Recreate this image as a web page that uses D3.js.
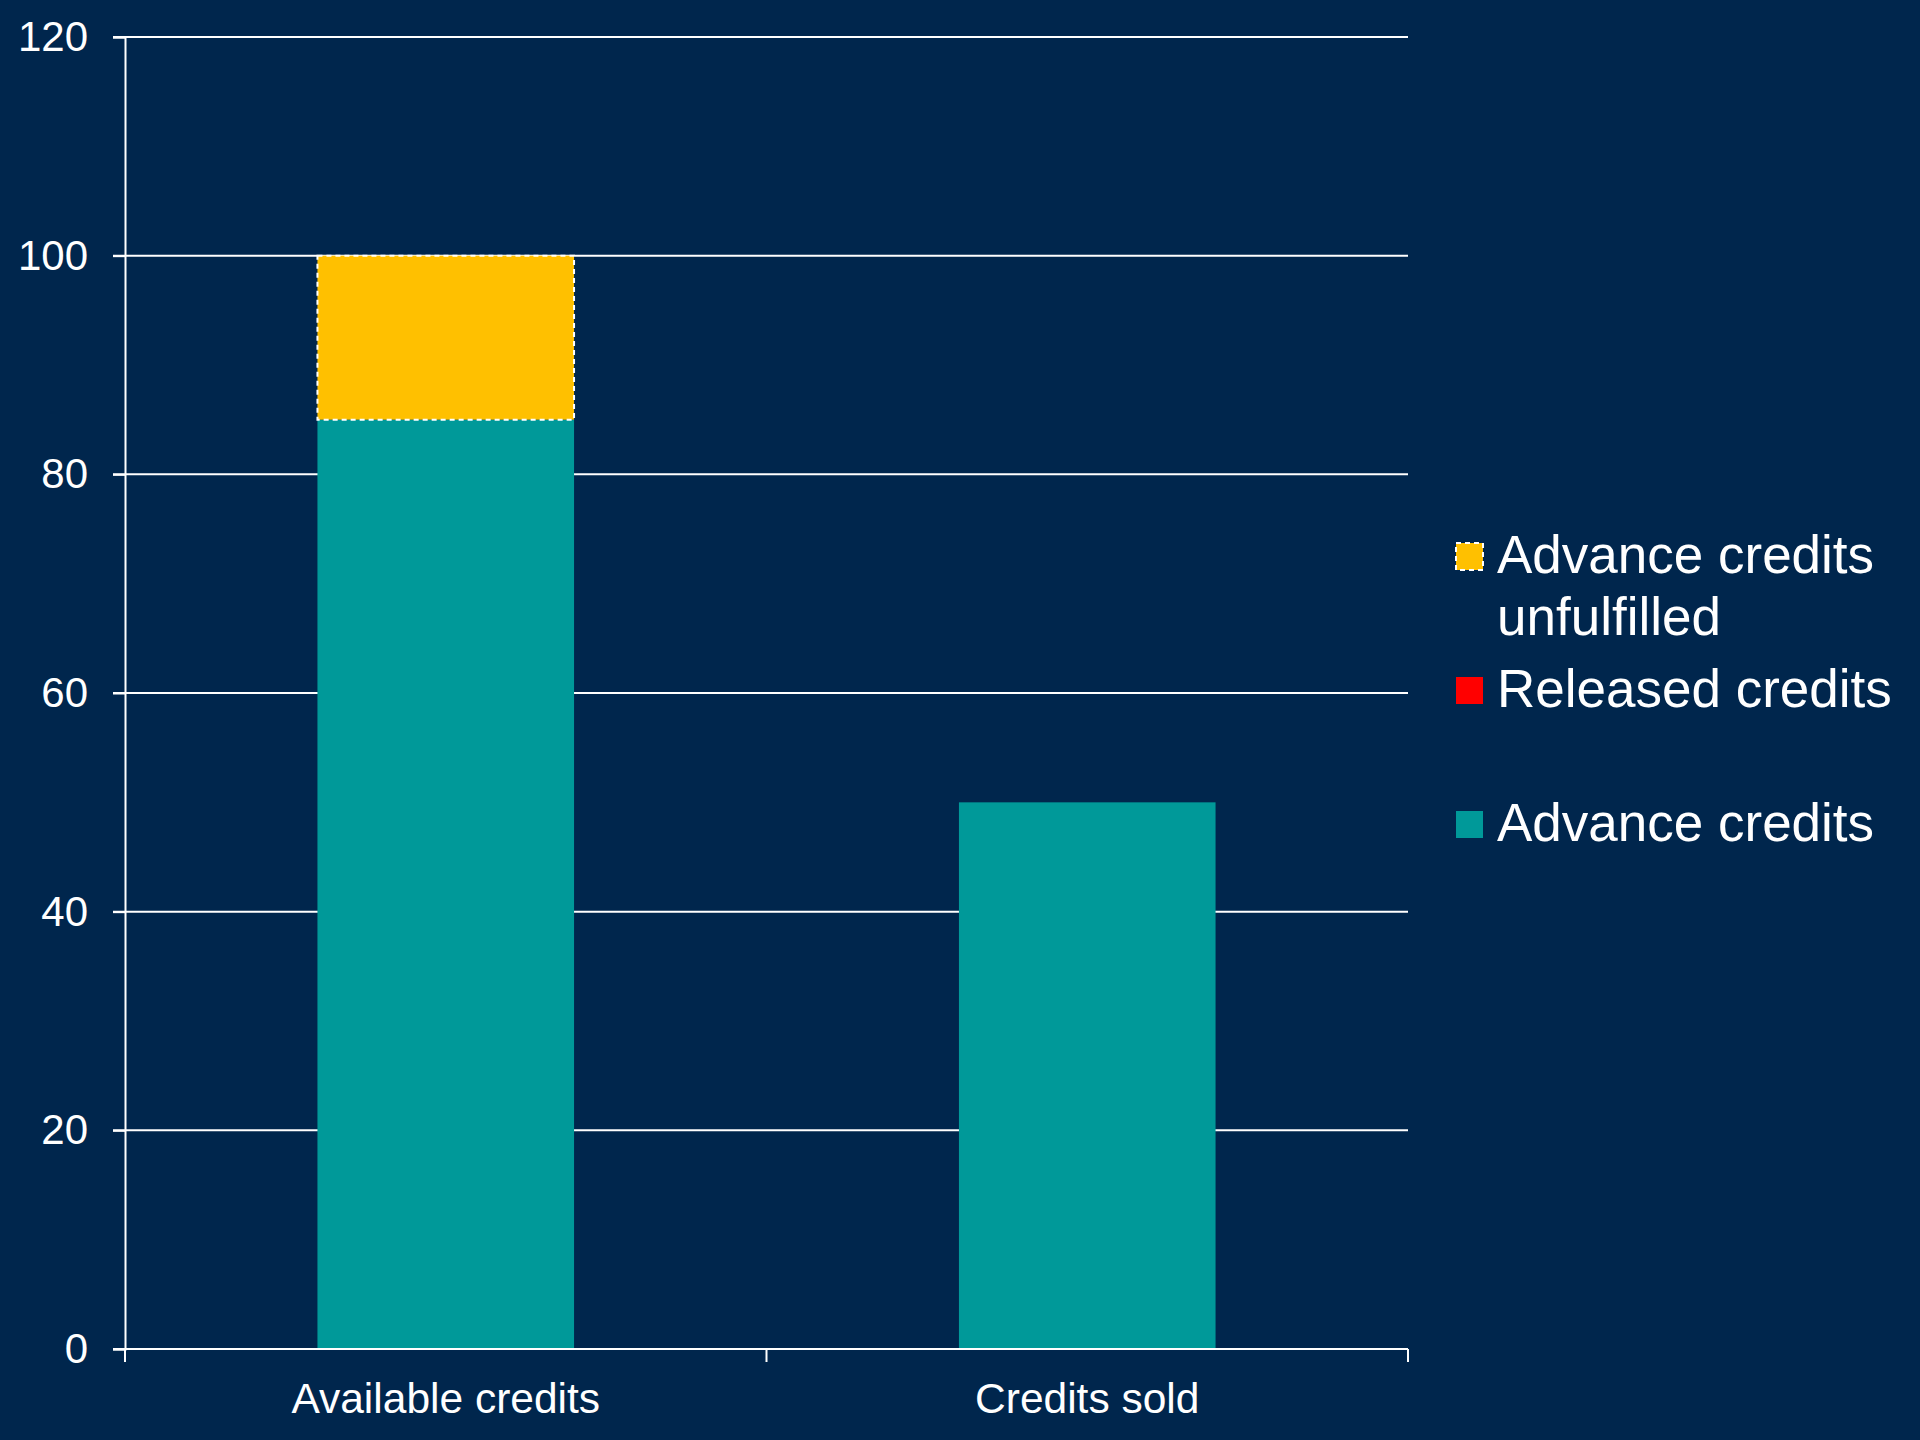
<!DOCTYPE html>
<html>
<head>
<meta charset="utf-8">
<script src="https://cdn.jsdelivr.net/npm/d3@7"></script>
<style>
  html, body { margin: 0; padding: 0; background: #00264D; }
  svg { display: block; }
  text { font-family: "Liberation Sans", Arial, sans-serif; fill: #ffffff; }
</style>
</head>
<body>
<svg id="chart" width="1920" height="1440"></svg>
<script>
// Chart data
const categories = ["Available credits", "Credits sold"];
const advanceCredits = [85, 50];
const releasedCredits = [0, 0];
const unfulfilledCredits = [15, 0];
const yTicks = [0, 20, 40, 60, 80, 100, 120];

const seriesKeys = ["advance", "released", "unfulfilled"];
const seriesNames = {
  advance: "Advance credits",
  released: "Released credits",
  unfulfilled: ["Advance credits", "unfulfilled"]
};
const colors = { advance: "#009999", released: "#FF0000", unfulfilled: "#FFC000" };

const rows = categories.map((c, i) => ({
  category: c,
  advance: advanceCredits[i],
  released: releasedCredits[i],
  unfulfilled: unfulfilledCredits[i]
}));

const svg = d3.select("#chart");
const margin = { left: 125, right: 512, top: 37, bottom: 91 };
const W = 1920, H = 1440;

const x = d3.scaleBand()
  .domain(categories)
  .range([margin.left, W - margin.right])
  .paddingInner(0.6)
  .paddingOuter(0.3);

const y = d3.scaleLinear()
  .domain([0, 120])
  .range([H - margin.bottom, margin.top]);

// Gridlines
svg.append("g")
  .selectAll("line")
  .data(yTicks)
  .join("line")
  .attr("x1", margin.left - 12)
  .attr("x2", W - margin.right)
  .attr("y1", d => y(d))
  .attr("y2", d => y(d))
  .attr("stroke", "#ffffff")
  .attr("stroke-width", 2);

// Stacked bars
const stack = d3.stack().keys(seriesKeys)(rows);
const layers = svg.append("g")
  .selectAll("g")
  .data(stack)
  .join("g")
  .attr("fill", d => colors[d.key]);

layers.selectAll("rect")
  .data(d => d.filter(s => s[1] - s[0] > 0).map(s => Object.assign(s, { key: d.key })))
  .join("rect")
  .attr("x", d => x(d.data.category))
  .attr("width", x.bandwidth())
  .attr("y", d => y(d[1]))
  .attr("height", d => y(d[0]) - y(d[1]))
  .attr("stroke", d => d.key === "unfulfilled" ? "#ffffff" : "none")
  .attr("stroke-width", 2)
  .attr("stroke-dasharray", d => d.key === "unfulfilled" ? "5,4" : null);

// Y axis
const yAxis = svg.append("g")
  .attr("transform", `translate(${margin.left},0)`)
  .call(d3.axisLeft(y).tickValues(yTicks).tickSize(12).tickPadding(25));
yAxis.select(".domain").attr("stroke", "#ffffff").attr("stroke-width", 2);
yAxis.selectAll(".tick line").attr("stroke", "#ffffff").attr("stroke-width", 2);
yAxis.selectAll(".tick text")
  .attr("font-size", 42)
  .attr("font-family", "Liberation Sans, Arial, sans-serif")
  .attr("fill", "#ffffff");

// X axis with tick marks at band boundaries
const xBase = y(0);
svg.append("line")
  .attr("x1", margin.left).attr("x2", W - margin.right)
  .attr("y1", xBase).attr("y2", xBase)
  .attr("stroke", "#ffffff").attr("stroke-width", 2);

const step = (W - margin.right - margin.left) / categories.length;
const boundaries = d3.range(categories.length + 1).map(i => margin.left + i * step);
svg.append("g")
  .selectAll("line")
  .data(boundaries)
  .join("line")
  .attr("x1", d => d).attr("x2", d => d)
  .attr("y1", xBase).attr("y2", xBase + 13)
  .attr("stroke", "#ffffff").attr("stroke-width", 2);

svg.append("g")
  .selectAll("text")
  .data(categories)
  .join("text")
  .attr("x", d => x(d) + x.bandwidth() / 2)
  .attr("y", xBase + 64)
  .attr("text-anchor", "middle")
  .attr("font-size", 42.5)
  .text(d => d);

// Legend (top of stack first)
const legendItems = ["unfulfilled", "released", "advance"];
const legendBaselines = [573, 707, 841];
const legend = svg.append("g");
legendItems.forEach((k, i) => {
  const by = legendBaselines[i];
  legend.append("rect")
    .attr("x", 1456).attr("y", by - 30)
    .attr("width", 27).attr("height", 27)
    .attr("fill", colors[k])
    .attr("stroke", k === "unfulfilled" ? "#ffffff" : "none")
    .attr("stroke-width", 2)
    .attr("stroke-dasharray", k === "unfulfilled" ? "5,4" : null);
  const lines = Array.isArray(seriesNames[k]) ? seriesNames[k] : [seriesNames[k]];
  const t = legend.append("text")
    .attr("x", 1497).attr("y", by)
    .attr("font-size", 53);
  lines.forEach((ln, j) => {
    t.append("tspan").attr("x", 1497).attr("dy", j === 0 ? 0 : 62).text(ln);
  });
});
</script>
</body>
</html>
